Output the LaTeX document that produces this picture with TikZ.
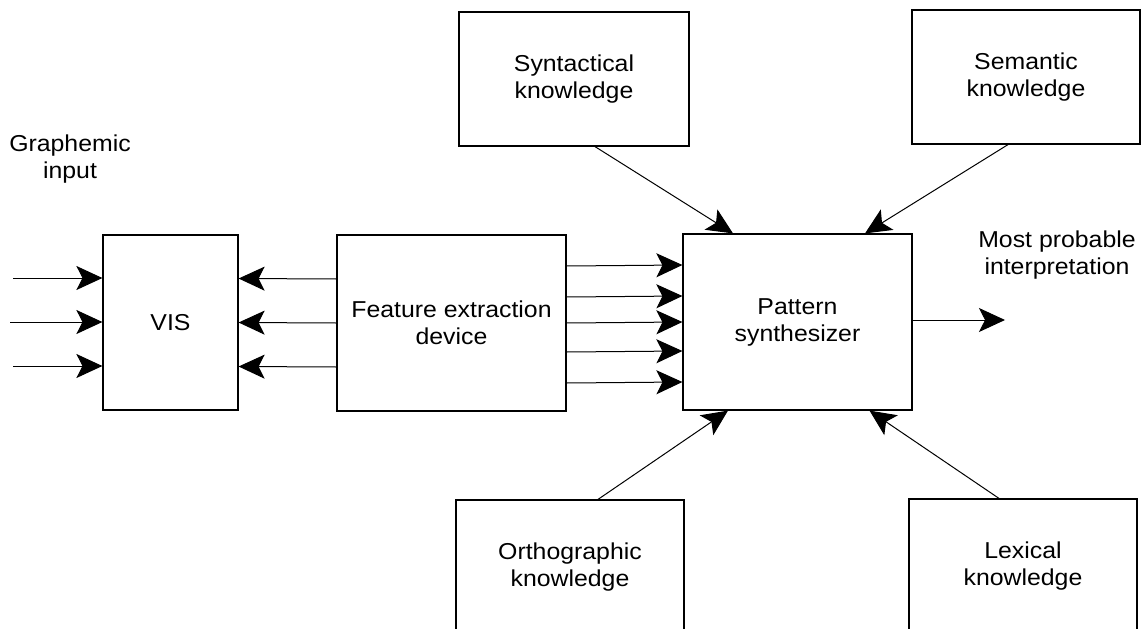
\documentclass[tikz,border=0pt]{standalone}
\usepackage{fontspec}
\setmainfont{Liberation Sans}[FakeStretch=1.08]
\usetikzlibrary{arrows.meta}
\begin{document}
\begin{tikzpicture}[x=1pt,y=-1pt,
  box/.style={draw, line width=1.2pt, rectangle, align=center, inner sep=0pt,
    font=\fontsize{23}{27}\selectfont},
  lbl/.style={align=center, font=\fontsize{23}{27}\selectfont},
  flow/.style={line width=1pt, -{Stealth[length=26pt, width=24pt, inset=6pt]}}]
\useasboundingbox (0,0) rectangle (1141,629);
\clip (0,0) rectangle (1141,629);
\fill[white] (0,0) rectangle (1141,629);

% processing stages
\node[box, minimum width=135pt, minimum height=175pt] (vis) at (170.5,322.5) {VIS};
\node[box, minimum width=229pt, minimum height=176pt] (fe) at (451.5,323) {Feature extraction\\device};
\node[box, minimum width=229pt, minimum height=176pt] (ps) at (797.5,322) {Pattern\\synthesizer};

% knowledge sources
\node[box, minimum width=230pt, minimum height=134pt] (syn) at (574,79) {Syntactical\\knowledge};
\node[box, minimum width=228pt, minimum height=134pt] (sem) at (1026,77) {Semantic\\knowledge};
\node[box, minimum width=228pt, minimum height=134pt] (ort) at (570,567) {Orthographic\\knowledge};
\node[box, minimum width=228pt, minimum height=134pt] (lex) at (1023,566) {Lexical\\knowledge};

% free labels
\node[lbl] (gi) at (70,159) {Graphemic\\input};
\node[lbl] (mp) at (1057,255) {Most probable\\interpretation};

% graphemic input into VIS
\coordinate (in1) at (13,278);
\coordinate (in2) at (10,322);
\coordinate (in3) at (13,366);
\draw[flow] (in1) -- (vis.west |- in1);
\draw[flow] (in2) -- (vis.west |- in2);
\draw[flow] (in3) -- (vis.west |- in3);

% feedback from feature extraction to VIS
\foreach \d in {-44,0,44}
  \draw[flow] ([yshift=\d pt]fe.west) -- ([yshift=\d pt]vis.east);

% features into the pattern synthesizer
\foreach \d in {-60,-29,0,26,57}
  \draw[flow] ([yshift=\d pt]fe.east) -- ([yshift=\d pt]ps.west);

% knowledge sources into the pattern synthesizer
\draw[flow] ([xshift=21pt]syn.south) -- ([xshift=-64.5pt]ps.north);
\draw[flow] ([xshift=-18pt]sem.south) -- ([xshift=67.5pt]ps.north);
\draw[flow] ([xshift=28pt]ort.north) -- ([xshift=-69.5pt]ps.south);
\draw[flow] ([xshift=-24pt]lex.north) -- ([xshift=72pt]ps.south);

% output
\coordinate (out) at (1005,320);
\draw[flow] (ps.east |- out) -- (out);
\end{tikzpicture}
\end{document}
